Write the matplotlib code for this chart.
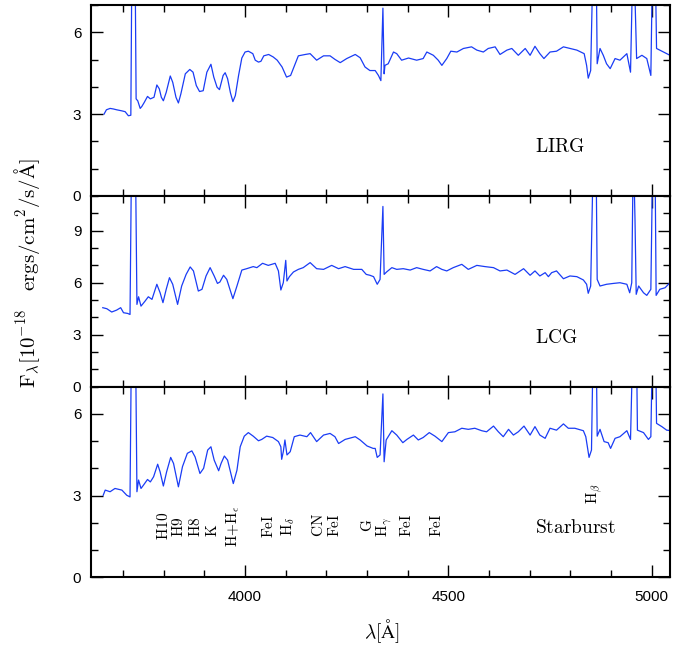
import matplotlib
matplotlib.use("Agg")
import matplotlib.pyplot as plt
from matplotlib.ticker import MultipleLocator

plt.rcParams['font.family'] = ['Liberation Sans', 'DejaVu Sans']
plt.rcParams['mathtext.fontset'] = 'cm'

# LIRG composite spectrum (wavelength in A, flux in 1e-18 erg/cm2/s/A)
lirg_wave = [3653, 3659, 3668, 3676, 3684, 3697, 3705, 3713, 3719, 3722, 3729, 3732, 3736, 3742, 3746, 3752,
             3760, 3767, 3776, 3783, 3789, 3794, 3799, 3806, 3816, 3822, 3830, 3836, 3842, 3853, 3864, 3872,
             3880, 3888, 3897, 3906, 3916, 3923, 3931, 3937, 3946, 3951, 3957, 3964, 3970, 3976, 3984, 3992,
             4000, 4008, 4019, 4025, 4033, 4039, 4046, 4058, 4069, 4079, 4091, 4102, 4112,
             4131, 4148, 4160, 4176, 4193, 4209, 4221, 4234, 4250, 4271, 4283, 4295, 4307, 4320, 4328, 4334,
             4339, 4342, 4344, 4352, 4365, 4373, 4385, 4402, 4422, 4438, 4447, 4463, 4475, 4484, 4496, 4506,
             4521, 4537, 4557, 4570, 4586, 4598, 4615, 4627, 4644, 4656, 4672, 4689, 4701, 4713, 4725, 4735,
             4750, 4766, 4783, 4799, 4816, 4834, 4840, 4844, 4850, 4857, 4863, 4866, 4873, 4881, 4889, 4898,
             4910, 4922, 4939, 4948, 4955, 4963, 4976, 4988, 4998, 5003, 5008, 5012, 5029, 5045]
lirg_flux = [3.00, 3.16, 3.21, 3.19, 3.16, 3.12, 3.09, 2.94, 2.96, 9.5, 9.5, 3.56, 3.49, 3.21, 3.28, 3.43,
             3.65, 3.56, 3.62, 4.07, 3.93, 3.62, 3.49, 3.80, 4.40, 4.17, 3.62, 3.41, 3.74, 4.48, 4.64, 4.54,
             4.05, 3.83, 3.86, 4.54, 4.83, 4.36, 3.99, 3.90, 4.42, 4.52, 4.30, 3.78, 3.46, 3.68, 4.42, 5.06,
             5.28, 5.31, 5.22, 4.98, 4.91, 4.94, 5.14, 5.19, 5.10, 4.98, 4.73, 4.36, 4.42,
             5.14, 5.19, 5.22, 4.98, 5.14, 5.14, 5.01, 4.89, 5.04, 5.19, 5.07, 4.73, 4.60, 4.60, 4.42, 4.23,
             6.89, 4.48, 4.79, 4.85, 5.28, 5.22, 4.98, 5.06, 4.98, 5.04, 5.28, 5.16, 4.98, 4.79, 5.04, 5.31,
             5.28, 5.41, 5.47, 5.35, 5.28, 5.41, 5.47, 5.19, 5.35, 5.41, 5.16, 5.41, 5.16, 5.49, 5.22, 5.04,
             5.28, 5.31, 5.47, 5.41, 5.35, 5.22, 4.79, 4.32, 4.60, 9.5, 9.5, 4.85, 5.41, 5.16, 4.85, 4.67,
             5.04, 4.98, 5.22, 4.54, 9.5, 5.04, 5.16, 5.04, 4.42, 9.5, 9.5, 5.41, 5.28, 5.16]

# LCG composite spectrum
lcg_wave = [3650, 3660, 3672, 3684, 3694, 3701, 3711, 3717, 3721, 3730, 3734, 3738, 3744, 3754, 3762, 3771,
            3783, 3791, 3798, 3806, 3814, 3822, 3834, 3844, 3855, 3865, 3873, 3885, 3894, 3904, 3914, 3924,
            3932, 3938, 3947, 3955, 3970, 3980, 3992, 4004, 4020, 4029, 4043, 4057, 4074, 4082, 4088, 4094,
            4100, 4103, 4109, 4119, 4131, 4143, 4160, 4176, 4193, 4213, 4230, 4246, 4267, 4287, 4298, 4307,
            4316, 4325, 4332, 4339, 4342, 4348, 4361, 4373, 4389, 4406, 4422, 4438, 4455, 4471, 4484, 4496,
            4512, 4533, 4549, 4570, 4590, 4611, 4627, 4644, 4664, 4685, 4701, 4713, 4725, 4738, 4746, 4754,
            4766, 4783, 4799, 4816, 4832, 4840, 4844, 4850, 4857, 4863, 4866, 4873, 4889, 4906, 4922, 4939,
            4946, 4951, 4955, 4959, 4962, 4968, 4980, 4988, 4998, 5003, 5008, 5011, 5020, 5033, 5045]
lcg_flux = [4.55, 4.49, 4.30, 4.41, 4.55, 4.26, 4.22, 4.16, 14, 14, 4.74, 5.18, 4.64, 4.93, 5.18, 5.03,
            5.90, 5.41, 4.84, 5.61, 6.28, 5.90, 4.74, 5.80, 6.47, 6.90, 6.67, 5.51, 5.61, 6.38, 6.86, 6.38,
            5.95, 6.03, 6.42, 6.18, 5.07, 5.80, 6.72, 6.80, 6.92, 6.86, 7.11, 6.99, 7.11, 6.67, 5.57, 5.99,
            7.28, 6.09, 6.34, 6.61, 6.76, 6.86, 7.15, 6.80, 6.76, 6.99, 6.80, 6.92, 6.76, 6.76, 6.47, 6.42,
            6.34, 5.90, 6.18, 10.39, 6.47, 6.61, 6.86, 6.76, 6.80, 6.72, 6.86, 6.76, 6.67, 6.92, 6.76, 6.67,
            6.86, 7.05, 6.76, 6.99, 6.92, 6.86, 6.67, 6.72, 6.47, 6.80, 6.42, 6.67, 6.38, 6.57, 6.34, 6.57,
            6.67, 6.22, 6.38, 6.34, 6.15, 5.90, 5.38, 5.80, 14, 14, 6.18, 5.80, 5.90, 5.95, 5.99, 5.90,
            5.41, 5.99, 14, 9.65, 5.32, 5.80, 5.41, 5.26, 5.61, 14, 14, 5.26, 5.61, 5.70, 5.99]

# Starburst composite spectrum
sb_wave = [3651, 3656, 3668, 3680, 3697, 3709, 3717, 3721, 3730, 3734, 3738, 3744, 3750, 3760, 3767, 3775,
           3785, 3791, 3799, 3807, 3817, 3824, 3836, 3846, 3858, 3869, 3877, 3889, 3898, 3908, 3916, 3924,
           3935, 3941, 3949, 3957, 3971, 3980, 3988, 3998, 4008, 4020, 4033, 4041, 4053, 4068, 4082, 4088,
           4090, 4094, 4098, 4103, 4111, 4121, 4135, 4152, 4161, 4176, 4193, 4209, 4221, 4230, 4246, 4271,
           4283, 4300, 4315, 4320, 4325, 4332, 4339, 4342, 4347, 4361, 4373, 4388, 4398, 4414, 4426, 4438,
           4453, 4467, 4484, 4500, 4516, 4533, 4549, 4565, 4582, 4594, 4611, 4623, 4635, 4648, 4660, 4672,
           4686, 4701, 4713, 4725, 4738, 4750, 4766, 4783, 4795, 4811, 4832, 4838, 4842, 4846, 4852, 4857,
           4863, 4866, 4873, 4883, 4893, 4899, 4910, 4922, 4939, 4948, 4955, 4962, 4965, 4980, 4992, 4998,
           5003, 5009, 5012, 5025, 5037, 5049]
sb_flux = [3.01, 3.20, 3.14, 3.26, 3.20, 3.01, 2.95, 9.5, 9.5, 3.14, 3.57, 3.26, 3.38, 3.59, 3.50, 3.69,
           4.15, 3.87, 3.35, 3.87, 4.40, 4.18, 3.32, 4.06, 4.55, 4.64, 4.42, 3.81, 4.00, 4.67, 4.79, 4.30,
           3.91, 4.18, 4.45, 4.30, 3.44, 3.93, 4.79, 5.18, 5.31, 5.18, 5.01, 5.06, 5.18, 5.13, 4.98, 4.79,
           4.33, 4.61, 5.04, 4.49, 4.61, 5.16, 5.22, 5.16, 5.31, 4.98, 5.22, 5.28, 5.16, 4.91, 5.06, 5.16,
           5.04, 4.82, 4.73, 4.73, 4.40, 4.49, 6.73, 4.24, 5.04, 5.38, 5.22, 4.94, 5.06, 5.22, 5.04, 5.13,
           5.31, 5.18, 4.98, 5.31, 5.34, 5.47, 5.43, 5.47, 5.38, 5.34, 5.55, 5.34, 5.16, 5.43, 5.22, 5.34,
           5.55, 5.22, 5.53, 5.22, 5.10, 5.47, 5.40, 5.63, 5.47, 5.47, 5.38, 5.16, 4.79, 4.40, 4.67, 9.5,
           9.5, 5.18, 5.43, 4.98, 4.94, 4.73, 5.10, 5.16, 5.38, 5.06, 9.5, 9.5, 5.40, 5.31, 5.06, 5.16,
           9.5, 9.5, 5.65, 5.53, 5.40, 5.38]

# absorption line labels in the bottom panel
line_names = ['H10', 'H9', 'H8', 'K', 'H{+}H_\\epsilon', 'FeI', 'H_\\delta', 'CN', 'FeI', 'G', 'H_\\gamma',
              'FeI', 'FeI', 'H_\\beta']
line_waves = [3799, 3837, 3878, 3921, 3970, 4057, 4106, 4180, 4221, 4300, 4342, 4398, 4472, 4860]
line_y = [1.87, 1.87, 1.87, 1.72, 1.87, 1.87, 1.87, 1.92, 1.90, 1.90, 1.85, 1.90, 1.90, 3.05]

panel_names = ['LIRG', 'LCG', 'Starburst']
panel_ylims = [7, 11, 7]
panel_yticks = [[0, 3, 6], [0, 3, 6, 9], [0, 3, 6]]
panel_label_y = [1.78, 2.83, 1.80]

spectra = [(lirg_wave, lirg_flux), (lcg_wave, lcg_flux), (sb_wave, sb_flux)]
blue = '#1a3cf5'

fig, axes = plt.subplots(3, 1, figsize=(6.74, 6.45), dpi=100, sharex=True)
fig.subplots_adjust(left=0.135, right=0.994, bottom=0.105, top=0.992, hspace=0)

for i, ax in enumerate(axes):
    wave, flux = spectra[i]
    ax.plot(wave, flux, color=blue, lw=0.9)
    ax.set_xlim(3621, 5045)
    ax.set_ylim(0, panel_ylims[i])
    ax.set_yticks(panel_yticks[i])
    ax.yaxis.set_minor_locator(MultipleLocator(1))
    ax.xaxis.set_major_locator(MultipleLocator(500))
    ax.xaxis.set_minor_locator(MultipleLocator(100))
    ax.tick_params(which='both', direction='in', top=True, right=True, labelsize=11)
    ax.tick_params(which='major', length=8.5, width=1.0)
    ax.tick_params(which='minor', length=5, width=1.0)
    ax.tick_params(axis='y', pad=7)
    ax.tick_params(axis='x', pad=9)
    for sp in ax.spines.values():
        sp.set_linewidth(1.5)
    ax.text(4713, panel_label_y[i], '$\\mathrm{' + panel_names[i] + '}$', fontsize=14,
            ha='left', va='center')

for name, w, yc in zip(line_names, line_waves, line_y):
    axes[2].text(w, yc, '$\\mathrm{' + name + '}$', fontsize=11, rotation=90, ha='center', va='center')

fig.text(0.040, 0.577, '$\\mathrm{F_\\lambda[10^{-18}\\quad ergs/cm^2/s/\\AA]}$', fontsize=15,
         rotation=90, ha='center', va='center')
fig.text(0.566, 0.022, '$\\mathrm{\\lambda[\\AA]}$', fontsize=14, ha='center', va='center')

fig.savefig('out.png', dpi=100)
